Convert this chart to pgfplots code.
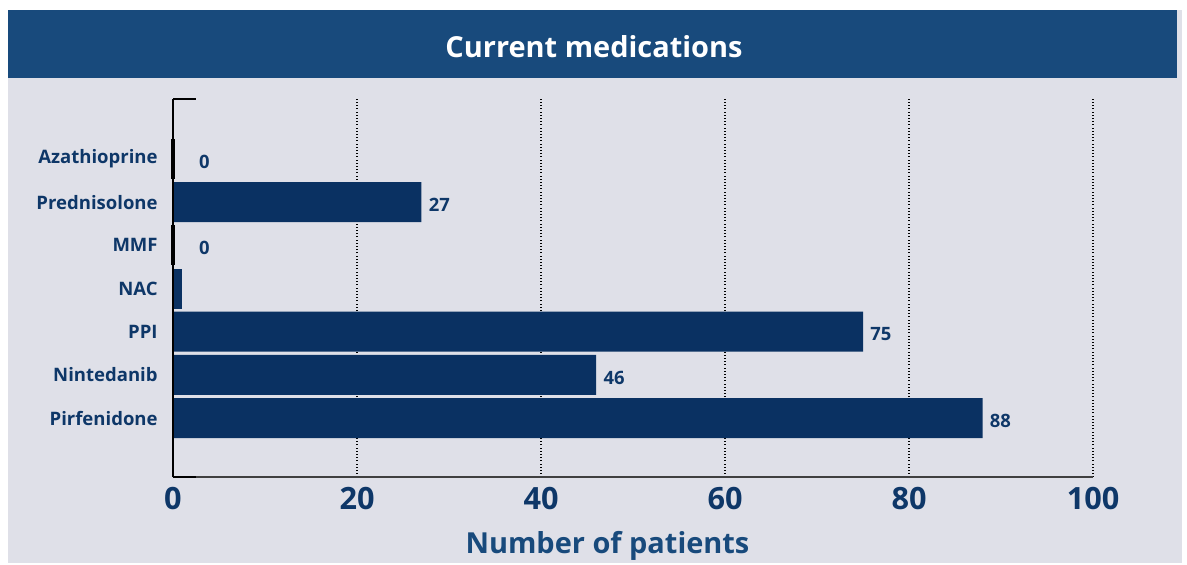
\documentclass[border=0pt]{standalone}
\usepackage{pgfplots}
\pgfplotsset{compat=1.18}
\usepackage{fontspec}
\setmainfont{Open Sans}
\definecolor{banner}{RGB}{24,74,124}
\definecolor{barc}{RGB}{10,49,98}
\definecolor{bg}{RGB}{223,224,232}
\definecolor{txt}{RGB}{14,55,104}
\begin{document}
\begin{tikzpicture}
\fill[white] (0pt,0pt) rectangle (890.25pt,422.25pt);
\fill[bg] (6pt,0pt) rectangle (886.5pt,414.75pt);
\fill[banner] (6pt,363.75pt) rectangle (882.75pt,414.75pt);
\node[white,font=\bfseries\fontsize{21.7}{24}\selectfont] at (445.5pt,387pt) {Current medications};
\begin{axis}[at={(129.75pt,64.5pt)}, anchor=south west, scale only axis,
  width=690pt, height=283.5pt,
  xmin=0, xmax=100, ymin=-1.366, ymax=7.39,
  axis line style={draw=none},
  major tick length=0pt,
  xtick={0,20,...,100},
  ytick={0,...,6},
  yticklabels={Pirfenidone,Nintedanib,PPI,NAC,MMF,Prednisolone,Azathioprine},
  xmajorgrids, grid style={dotted, black, line width=0.9pt},
  /pgf/number format/assume math mode=true,
  xticklabel style={font=\bfseries\fontsize{23}{26}\selectfont, text=txt, yshift=-4pt},
  yticklabel style={font=\bfseries\fontsize{13.9}{16}\selectfont, text=txt, xshift=-8pt},
  clip=false,
]
\addplot[xbar, fill=barc, draw=none, bar width=30pt,
  nodes near coords, point meta=explicit symbolic,
  nodes near coords style={font=\bfseries\fontsize{13.8}{16}\selectfont, text=txt, anchor=west, xshift=2pt, yshift=-2pt}]
  table[x=x, y=y, meta=lab] {
x y lab
88 0 88
46 1 46
75 2 75
27 5 27
};
\addplot[xbar, fill=barc, draw=none, bar width=30pt] coordinates {(1,3)};
\draw[black!75, line width=1.3pt] (rel axis cs:0,0) -- (rel axis cs:1,0);
\draw[black, line width=0.8pt] (rel axis cs:0,0) -- (rel axis cs:0,1);
\draw[black, line width=1pt] (rel axis cs:0,1) -- ++(17pt,0pt);
\draw[black, line width=1.3pt] (rel axis cs:0,0) -- ++(17pt,0pt);
\addplot[black, only marks, mark=|, mark size=15pt, mark options={line width=2.6pt, draw=black},
  nodes near coords, point meta=explicit symbolic,
  nodes near coords style={font=\bfseries\fontsize{13.8}{16}\selectfont, text=txt, anchor=west, xshift=15pt, yshift=-2pt}]
  table[x=x, y=y, meta=lab] {
x y lab
0 4 0
0 6 0
};
\end{axis}
\node[text=banner, font=\bfseries\fontsize{21.7}{24}\selectfont] at (455.6pt,13pt) {Number of patients};
\end{tikzpicture}
\end{document}
